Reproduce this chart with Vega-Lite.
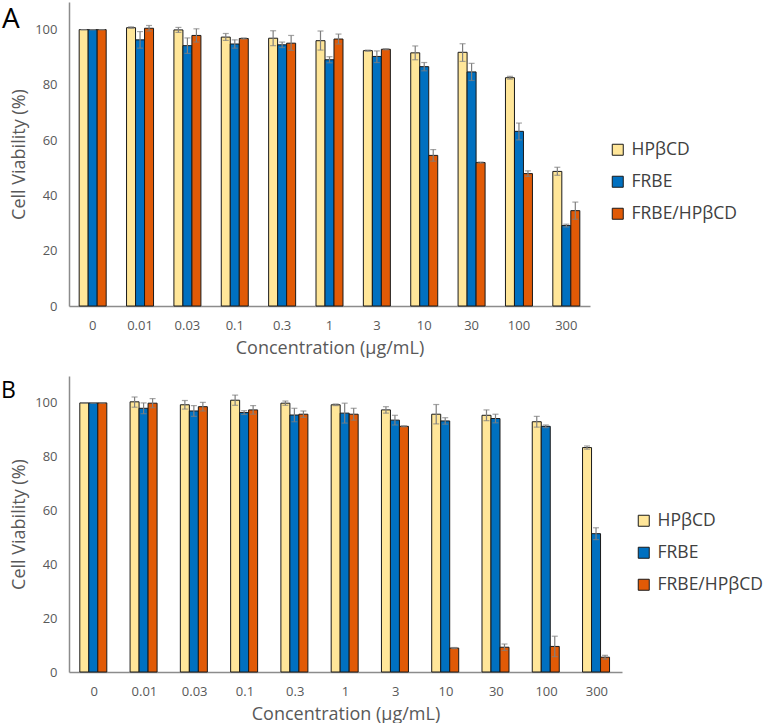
{
  "$schema": "https://vega.github.io/schema/vega-lite/v6.json",
  "padding": {"left": 1, "top": 2, "right": 0, "bottom": 0},
  "spacing": 19,
  "config": {
    "font": "Open Sans",
    "view": {"stroke": null},
    "axis": {"labelColor": "#595959", "titleColor": "#595959", "labelFontSize": 13, "titleFontSize": 18, "titleFontWeight": "normal", "domainColor": "#8c8c8c", "domainWidth": 1.5, "ticks": false, "grid": false},
    "legend": {"labelFontSize": 17.5, "labelColor": "#404040", "symbolType": "square", "symbolSize": 121, "symbolStrokeColor": "#1a1a1a", "symbolStrokeWidth": 1, "rowPadding": 13, "labelOffset": 5, "padding": 0, "labelLimit": 300},
    "title": {"fontWeight": "normal", "color": "#000000", "anchor": "start", "frame": "group", "baseline": "alphabetic"}
  },
  "datasets": {
    "a": [
      {"c": "0", "s": "HPβCD", "v": 100, "lo": 100, "hi": 100},
      {"c": "0", "s": "FRBE", "v": 100, "lo": 100, "hi": 100},
      {"c": "0", "s": "FRBE/HPβCD", "v": 100, "lo": 100, "hi": 100},
      {"c": "0.01", "s": "HPβCD", "v": 100.7, "lo": 100.5, "hi": 101},
      {"c": "0.01", "s": "FRBE", "v": 96.3, "lo": 93.3, "hi": 99.3},
      {"c": "0.01", "s": "FRBE/HPβCD", "v": 100.5, "lo": 99.5, "hi": 101.5},
      {"c": "0.03", "s": "HPβCD", "v": 99.9, "lo": 99.0, "hi": 100.8},
      {"c": "0.03", "s": "FRBE", "v": 94.2, "lo": 91.4, "hi": 97},
      {"c": "0.03", "s": "FRBE/HPβCD", "v": 97.9, "lo": 95.5, "hi": 100.3},
      {"c": "0.1", "s": "HPβCD", "v": 97.3, "lo": 96.1, "hi": 98.6},
      {"c": "0.1", "s": "FRBE", "v": 94.8, "lo": 93.3, "hi": 96.3},
      {"c": "0.1", "s": "FRBE/HPβCD", "v": 96.8, "lo": 96.6, "hi": 97},
      {"c": "0.3", "s": "HPβCD", "v": 96.9, "lo": 94.2, "hi": 99.6},
      {"c": "0.3", "s": "FRBE", "v": 94.5, "lo": 93.5, "hi": 95.5},
      {"c": "0.3", "s": "FRBE/HPβCD", "v": 95.1, "lo": 92.5, "hi": 97.9},
      {"c": "1", "s": "HPβCD", "v": 96, "lo": 92.6, "hi": 99.5},
      {"c": "1", "s": "FRBE", "v": 89.1, "lo": 88, "hi": 90.2},
      {"c": "1", "s": "FRBE/HPβCD", "v": 96.6, "lo": 94.8, "hi": 98.4},
      {"c": "3", "s": "HPβCD", "v": 92.4, "lo": 92.2, "hi": 92.6},
      {"c": "3", "s": "FRBE", "v": 90.3, "lo": 88.1, "hi": 92.3},
      {"c": "3", "s": "FRBE/HPβCD", "v": 92.9, "lo": 92.7, "hi": 93.1},
      {"c": "10", "s": "HPβCD", "v": 91.6, "lo": 89.1, "hi": 94.1},
      {"c": "10", "s": "FRBE", "v": 86.6, "lo": 85.1, "hi": 88.1},
      {"c": "10", "s": "FRBE/HPβCD", "v": 54.5, "lo": 52.4, "hi": 56.6},
      {"c": "30", "s": "HPβCD", "v": 91.8, "lo": 88.5, "hi": 94.9},
      {"c": "30", "s": "FRBE", "v": 84.7, "lo": 81.6, "hi": 87.8},
      {"c": "30", "s": "FRBE/HPβCD", "v": 51.9, "lo": 51.7, "hi": 52.1},
      {"c": "100", "s": "HPβCD", "v": 82.6, "lo": 82.1, "hi": 83.1},
      {"c": "100", "s": "FRBE", "v": 63.2, "lo": 60.1, "hi": 66.2},
      {"c": "100", "s": "FRBE/HPβCD", "v": 47.9, "lo": 46.9, "hi": 48.9},
      {"c": "300", "s": "HPβCD", "v": 48.7, "lo": 47.3, "hi": 50.2},
      {"c": "300", "s": "FRBE", "v": 29.1, "lo": 28.6, "hi": 29.6},
      {"c": "300", "s": "FRBE/HPβCD", "v": 34.5, "lo": 31.4, "hi": 37.6}
    ],
    "b": [
      {"c": "0", "s": "HPβCD", "v": 100, "lo": 100, "hi": 100},
      {"c": "0", "s": "FRBE", "v": 100, "lo": 100, "hi": 100},
      {"c": "0", "s": "FRBE/HPβCD", "v": 100, "lo": 100, "hi": 100},
      {"c": "0.01", "s": "HPβCD", "v": 100.4, "lo": 98.4, "hi": 102.2},
      {"c": "0.01", "s": "FRBE", "v": 98, "lo": 96, "hi": 100},
      {"c": "0.01", "s": "FRBE/HPβCD", "v": 99.9, "lo": 98.2, "hi": 101.6},
      {"c": "0.03", "s": "HPβCD", "v": 99.3, "lo": 97.7, "hi": 100.9},
      {"c": "0.03", "s": "FRBE", "v": 97, "lo": 95, "hi": 99},
      {"c": "0.03", "s": "FRBE/HPβCD", "v": 98.6, "lo": 97, "hi": 100.2},
      {"c": "0.1", "s": "HPβCD", "v": 101, "lo": 99.1, "hi": 102.9},
      {"c": "0.1", "s": "FRBE", "v": 96.4, "lo": 95.7, "hi": 97.1},
      {"c": "0.1", "s": "FRBE/HPβCD", "v": 97.4, "lo": 95.8, "hi": 99},
      {"c": "0.3", "s": "HPβCD", "v": 99.9, "lo": 99.1, "hi": 100.7},
      {"c": "0.3", "s": "FRBE", "v": 95.5, "lo": 93, "hi": 98},
      {"c": "0.3", "s": "FRBE/HPβCD", "v": 95.8, "lo": 94.6, "hi": 97},
      {"c": "1", "s": "HPβCD", "v": 99.3, "lo": 99, "hi": 99.6},
      {"c": "1", "s": "FRBE", "v": 96.2, "lo": 92.5, "hi": 99.9},
      {"c": "1", "s": "FRBE/HPβCD", "v": 95.8, "lo": 93.6, "hi": 98},
      {"c": "3", "s": "HPβCD", "v": 97.4, "lo": 96.2, "hi": 98.6},
      {"c": "3", "s": "FRBE", "v": 93.6, "lo": 91.8, "hi": 95.4},
      {"c": "3", "s": "FRBE/HPβCD", "v": 91.3, "lo": 91.1, "hi": 91.5},
      {"c": "10", "s": "HPβCD", "v": 95.8, "lo": 92.2, "hi": 99.4},
      {"c": "10", "s": "FRBE", "v": 93.3, "lo": 92.1, "hi": 94.5},
      {"c": "10", "s": "FRBE/HPβCD", "v": 8.9, "lo": 8.7, "hi": 9.1},
      {"c": "30", "s": "HPβCD", "v": 95.4, "lo": 93.4, "hi": 97.4},
      {"c": "30", "s": "FRBE", "v": 94.2, "lo": 92.6, "hi": 95.8},
      {"c": "30", "s": "FRBE/HPβCD", "v": 9.2, "lo": 8, "hi": 10.4},
      {"c": "100", "s": "HPβCD", "v": 93, "lo": 91, "hi": 95},
      {"c": "100", "s": "FRBE", "v": 91.3, "lo": 90.8, "hi": 91.8},
      {"c": "100", "s": "FRBE/HPβCD", "v": 9.5, "lo": 5.7, "hi": 13.3},
      {"c": "300", "s": "HPβCD", "v": 83.4, "lo": 82.8, "hi": 84},
      {"c": "300", "s": "FRBE", "v": 51.4, "lo": 49.2, "hi": 53.6},
      {"c": "300", "s": "FRBE/HPβCD", "v": 5.5, "lo": 4.8, "hi": 6.2}
    ]
  },
  "resolve": {"legend": {"color": "independent"}},
  "vconcat": [
    {
      "width": 521,
      "height": 304,
      "data": {"name": "a"},
      "title": {"text": "A", "dx": -67, "dy": 36, "fontSize": 28},
      "encoding": {
        "x": {"field": "c", "type": "nominal", "sort": ["0", "0.01", "0.03", "0.1", "0.3", "1", "3", "10", "30", "100", "300"], "scale": {"paddingInner": 0.43, "paddingOuter": 0.215}, "axis": {"title": "Concentration (µg/mL)", "labelAngle": 0, "labelPadding": 13, "titlePadding": 7}},
        "xOffset": {"field": "s", "type": "nominal", "sort": ["HPβCD", "FRBE", "FRBE/HPβCD"], "scale": {"paddingInner": 0, "paddingOuter": 0}}
      },
      "layer": [
        {
          "mark": {"type": "bar", "stroke": "#1a1a1a", "strokeWidth": 1},
          "encoding": {
            "y": {"field": "v", "type": "quantitative", "scale": {"domain": [0, 110], "nice": false}, "axis": {"title": "Cell Viability (%)", "values": [0, 20, 40, 60, 80, 100], "labelPadding": 12, "titlePadding": 6}},
            "color": {"field": "s", "type": "nominal", "sort": ["HPβCD", "FRBE", "FRBE/HPβCD"], "scale": {"domain": ["HPβCD", "FRBE", "FRBE/HPβCD"], "range": ["#FFE699", "#0070C0", "#E15A06"]}, "legend": {"title": null, "orient": "none", "legendX": 540, "legendY": 139}}
          }
        },
        {
          "mark": {"type": "rule", "color": "#7f7f7f", "strokeWidth": 1.2},
          "encoding": {"y": {"field": "lo", "type": "quantitative"}, "y2": {"field": "hi"}}
        },
        {
          "mark": {"type": "tick", "color": "#7f7f7f", "size": 6, "thickness": 1.2},
          "encoding": {"y": {"field": "lo", "type": "quantitative"}}
        },
        {
          "mark": {"type": "tick", "color": "#7f7f7f", "size": 6, "thickness": 1.2},
          "encoding": {"y": {"field": "hi", "type": "quantitative"}}
        }
      ]
    },
    {
      "width": 553,
      "height": 296,
      "data": {"name": "b"},
      "title": {"text": "B", "dx": -68, "dy": 31, "fontSize": 23},
      "encoding": {
        "x": {"field": "c", "type": "nominal", "sort": ["0", "0.01", "0.03", "0.1", "0.3", "1", "3", "10", "30", "100", "300"], "scale": {"paddingInner": 0.43, "paddingOuter": 0.215}, "axis": {"title": "Concentration (µg/mL)", "labelAngle": 0, "labelPadding": 13, "titlePadding": 7}},
        "xOffset": {"field": "s", "type": "nominal", "sort": ["HPβCD", "FRBE", "FRBE/HPβCD"], "scale": {"paddingInner": 0, "paddingOuter": 0}}
      },
      "layer": [
        {
          "mark": {"type": "bar", "stroke": "#1a1a1a", "strokeWidth": 1},
          "encoding": {
            "y": {"field": "v", "type": "quantitative", "scale": {"domain": [0, 110], "nice": false}, "axis": {"title": "Cell Viability (%)", "values": [0, 20, 40, 60, 80, 100], "labelPadding": 12, "titlePadding": 6}},
            "color": {"field": "s", "type": "nominal", "sort": ["HPβCD", "FRBE", "FRBE/HPβCD"], "scale": {"domain": ["HPβCD", "FRBE", "FRBE/HPβCD"], "range": ["#FFE699", "#0070C0", "#E15A06"]}, "legend": {"title": null, "orient": "none", "legendX": 566, "legendY": 136}}
          }
        },
        {
          "mark": {"type": "rule", "color": "#7f7f7f", "strokeWidth": 1.2},
          "encoding": {"y": {"field": "lo", "type": "quantitative"}, "y2": {"field": "hi"}}
        },
        {
          "mark": {"type": "tick", "color": "#7f7f7f", "size": 6, "thickness": 1.2},
          "encoding": {"y": {"field": "lo", "type": "quantitative"}}
        },
        {
          "mark": {"type": "tick", "color": "#7f7f7f", "size": 6, "thickness": 1.2},
          "encoding": {"y": {"field": "hi", "type": "quantitative"}}
        }
      ]
    }
  ]
}
